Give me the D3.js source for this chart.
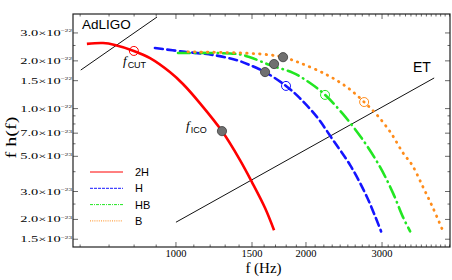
<!DOCTYPE html>
<html>
<head>
<meta charset="utf-8">
<script src="https://cdn.jsdelivr.net/npm/d3@7"></script>
<style>
  body { margin: 0; background: #fff; }
  svg { display: block; }
</style>
</head>
<body>
<div id="chart"></div>
<script>
// frequencies (Hz) and f h(f) values
const freq2H = [622, 678, 722, 799, 871, 968, 1038, 1137, 1278, 1407, 1500, 1608, 1687];
const amp2H = [2.56e-22, 2.59e-22, 2.52e-22, 2.31e-22, 2.08e-22, 1.70e-22, 1.43e-22, 1.08e-22, 7.21e-23, 4.73e-23, 3.43e-23, 2.36e-23, 1.71e-23];

const freqH = [894, 1049, 1218, 1384, 1484, 1608, 1798, 1938, 2122, 2311, 2531, 2770, 2985];
const ampH = [2.41e-22, 2.28e-22, 2.18e-22, 2.02e-22, 1.88e-22, 1.70e-22, 1.39e-22, 1.16e-22, 8.83e-23, 6.32e-23, 4.40e-23, 2.76e-23, 1.68e-23];

const freqHB = [1011, 1384, 1484, 1651, 1867, 2044, 2214, 2437, 2712, 2970, 3183, 3357, 3485];
const ampHB = [2.24e-22, 2.21e-22, 2.11e-22, 1.88e-22, 1.68e-22, 1.45e-22, 1.22e-22, 9.22e-23, 6.32e-23, 4.27e-23, 2.92e-23, 2.06e-23, 1.68e-23];

const freqB = [1066, 1430, 1651, 1770, 1938, 2238, 2503, 2727, 2922, 3148, 3357, 3523, 3735, 3940, 4155];
const ampB = [2.28e-22, 2.24e-22, 2.18e-22, 2.11e-22, 1.94e-22, 1.63e-22, 1.35e-22, 1.10e-22, 9.10e-23, 7.00e-23, 5.24e-23, 4.40e-23, 3.19e-23, 2.35e-23, 1.68e-23];

// detector noise lines (end points)
const adligoF = [602, 904];
const adligoA = [1.75e-22, 3.78e-22];
const etF = [1000, 3961];
const etA = [1.92e-23, 1.56e-22];

// markers: f_ICO style filled points and f_CUT style open points
const icoF = [1278, 1608, 1687, 1770];
const icoA = [7.21e-23, 1.70e-22, 1.91e-22, 2.11e-22];
const cutF = [799, 1798, 2214, 2727];
const cutA = [2.31e-22, 1.39e-22, 1.22e-22, 1.10e-22];

const seriesNames = ["2H", "H", "HB", "B"];
const seriesColors = ["#ff0000", "#1414ff", "#22e622", "#ff8c1a"];

const xTicks = [1000, 1500, 2000, 3000];
const yTicks = [1.5e-23, 2e-23, 3e-23, 5e-23, 7e-23, 1e-22, 1.5e-22, 2e-22, 3e-22];
const yTickMant = ["1.5", "2.0", "3.0", "5.0", "7.0", "1.0", "1.5", "2.0", "3.0"];
const yTickExp = ["\u221223", "\u221223", "\u221223", "\u221223", "\u221223", "\u221222", "\u221222", "\u221222", "\u221222"];

const width = 452;
const height = 280;
const margin = ({ top: 14, right: 2, bottom: 33, left: 73 });

const svg = d3.select("#chart")
    .append("svg")
    .attr("width", width)
    .attr("height", height);

const x = d3.scaleLog()
    .domain([577.6, 4310])
    .range([margin.left, width - margin.right]);

const y = d3.scaleLog()
    .domain([1.34e-23, 3.95e-22])
    .range([height - margin.bottom, margin.top]);

const serif = "'Liberation Serif', 'DejaVu Serif', serif";
const sans = "'Liberation Sans', Arial, sans-serif";

// minor ticks
const xMinor = d3.range(600, 4400, 100).filter(d => !xTicks.includes(d));
const yMinor = [];
[1e-23, 1e-22].forEach(p => [1, 2, 3, 4, 5, 6, 7, 8, 9].forEach(n => {
    const v = n * p;
    if (!yTicks.some(t => Math.abs(t - v) / v < 1e-6)) yMinor.push(v);
}));
[2.5e-22, 2.5e-23].forEach(v => yMinor.push(v));

const x0 = margin.left, x1 = width - margin.right;
const y0 = height - margin.bottom, y1 = margin.top;

svg.append("clipPath").attr("id", "clip")
    .append("rect")
    .attr("x", x0).attr("y", y1)
    .attr("width", x1 - x0).attr("height", y0 - y1);

const tickG = svg.append("g").attr("stroke", "#444").attr("stroke-width", 0.8);

function xTickLines(vals, len) {
    vals.filter(v => x(v) > x0 && x(v) < x1).forEach(v => {
        tickG.append("line").attr("x1", x(v)).attr("x2", x(v)).attr("y1", y0).attr("y2", y0 - len);
        tickG.append("line").attr("x1", x(v)).attr("x2", x(v)).attr("y1", y1).attr("y2", y1 + len);
    });
}
function yTickLines(vals, len) {
    vals.filter(v => y(v) < y0 && y(v) > y1).forEach(v => {
        tickG.append("line").attr("y1", y(v)).attr("y2", y(v)).attr("x1", x0).attr("x2", x0 + len);
        tickG.append("line").attr("y1", y(v)).attr("y2", y(v)).attr("x1", x1).attr("x2", x1 - len);
    });
}
xTickLines(xTicks, 5);
xTickLines(xMinor, 2.5);
yTickLines(yTicks, 5);
yTickLines(yMinor, 2.5);

// x tick labels
svg.append("g")
    .selectAll("text")
    .data(xTicks)
    .join("text")
    .attr("x", d => x(d))
    .attr("y", y0 + 10)
    .attr("text-anchor", "middle")
    .attr("font-family", serif)
    .attr("font-size", 10.5)
    .text(d => d);

// y tick labels with scientific notation (drawn wide, like the original)
const yLab = svg.append("g")
    .selectAll("text")
    .data(yTicks)
    .join("text")
    .attr("transform", d => `translate(${x0 - 1},${y(d) + 3}) scale(1.6,1)`)
    .attr("text-anchor", "end")
    .attr("font-family", serif)
    .attr("font-size", 9);
yLab.append("tspan").text((d, i) => yTickMant[i] + "\u00d710");
yLab.append("tspan")
    .attr("dy", -3.5)
    .attr("font-size", 4.5)
    .text((d, i) => yTickExp[i]);

// axis titles
svg.append("text")
    .attr("x", (x0 + x1) / 2 + 2)
    .attr("y", 273)
    .attr("text-anchor", "middle")
    .attr("font-family", serif)
    .attr("font-size", 15)
    .text("f (Hz)");

svg.append("text")
    .attr("transform", `translate(16,${(y0 + y1) / 2 + 7}) rotate(-90)`)
    .attr("text-anchor", "middle")
    .attr("font-family", serif)
    .attr("font-size", 14)
    .attr("textLength", 42)
    .attr("lengthAdjust", "spacingAndGlyphs")
    .text("f h(f)");

const plot = svg.append("g").attr("clip-path", "url(#clip)");

const line = d3.line()
    .x(d => x(d[0]))
    .y(d => y(d[1]))
    .curve(d3.curveCatmullRom.alpha(0.5));

const straight = d3.line()
    .x(d => x(d[0]))
    .y(d => y(d[1]));

// detector lines
[[adligoF, adligoA], [etF, etA]].forEach(([f, a]) => {
    plot.append("path")
        .datum(d3.zip(f, a))
        .attr("fill", "none")
        .attr("stroke", "#111")
        .attr("stroke-width", 1)
        .attr("d", straight);
});

// waveform curves
const curves = [
    { f: freq2H, a: amp2H, dash: null, w: 2.6 },
    { f: freqH, a: ampH, dash: "8 4.5", w: 2.6 },
    { f: freqHB, a: ampHB, dash: "12 5 0.5 5", w: 2.6 },
    { f: freqB, a: ampB, dash: "0.5 6", w: 2.8 }
];

curves.forEach((c, i) => {
    plot.append("path")
        .datum(d3.zip(c.f, c.a))
        .attr("fill", "none")
        .attr("stroke", seriesColors[i])
        .attr("stroke-width", c.w)
        .attr("stroke-dasharray", c.dash)
        .attr("stroke-linecap", c.dash ? "round" : "butt")
        .attr("stroke-linejoin", "round")
        .attr("d", line);
});

// open markers
plot.append("g")
    .selectAll("circle")
    .data(d3.zip(cutF, cutA))
    .join("circle")
    .attr("cx", d => x(d[0]))
    .attr("cy", d => y(d[1]))
    .attr("r", 4.5)
    .attr("fill", "none")
    .attr("stroke", (d, i) => seriesColors[i])
    .attr("stroke-width", 1);

// filled markers
plot.append("g")
    .selectAll("circle")
    .data(d3.zip(icoF, icoA))
    .join("circle")
    .attr("cx", d => x(d[0]))
    .attr("cy", d => y(d[1]))
    .attr("r", 4.6)
    .attr("fill", "#707070")
    .attr("stroke", "#3a3a3a")
    .attr("stroke-width", 0.8);

// frame
svg.append("rect")
    .attr("x", x0).attr("y", y1)
    .attr("width", x1 - x0).attr("height", y0 - y1)
    .attr("fill", "none")
    .attr("stroke", "#222")
    .attr("stroke-width", 1.2);

// annotations
svg.append("text")
    .attr("x", 82).attr("y", 29)
    .attr("font-family", sans).attr("font-size", 13.5)
    .text("AdLIGO");

svg.append("text")
    .attr("x", 413).attr("y", 72)
    .attr("font-family", sans).attr("font-size", 14)
    .text("ET");

function fLabel(px, py, sub) {
    const t = svg.append("text").attr("x", px).attr("y", py);
    t.append("tspan")
        .attr("font-family", serif).attr("font-style", "italic").attr("font-size", 13)
        .text("f");
    t.append("tspan")
        .attr("dy", 3).attr("dx", 1)
        .attr("font-family", sans).attr("font-size", 9)
        .text(sub);
}
fLabel(123, 65, "CUT");
fLabel(186, 130, "ICO");

// legend
const legendDash = [null, "3 1", "3 1 1 1", "1 1.2"];
const legend = svg.append("g");
seriesNames.forEach((name, i) => {
    const ly = 172 + i * 16.3;
    legend.append("line")
        .attr("x1", 90).attr("x2", 123)
        .attr("y1", ly).attr("y2", ly)
        .attr("stroke", seriesColors[i])
        .attr("stroke-width", 1)
        .attr("stroke-dasharray", legendDash[i]);
    legend.append("text")
        .attr("x", 135).attr("y", ly + 4)
        .attr("font-family", sans).attr("font-size", 11)
        .text(name);
});
</script>
</body>
</html>
